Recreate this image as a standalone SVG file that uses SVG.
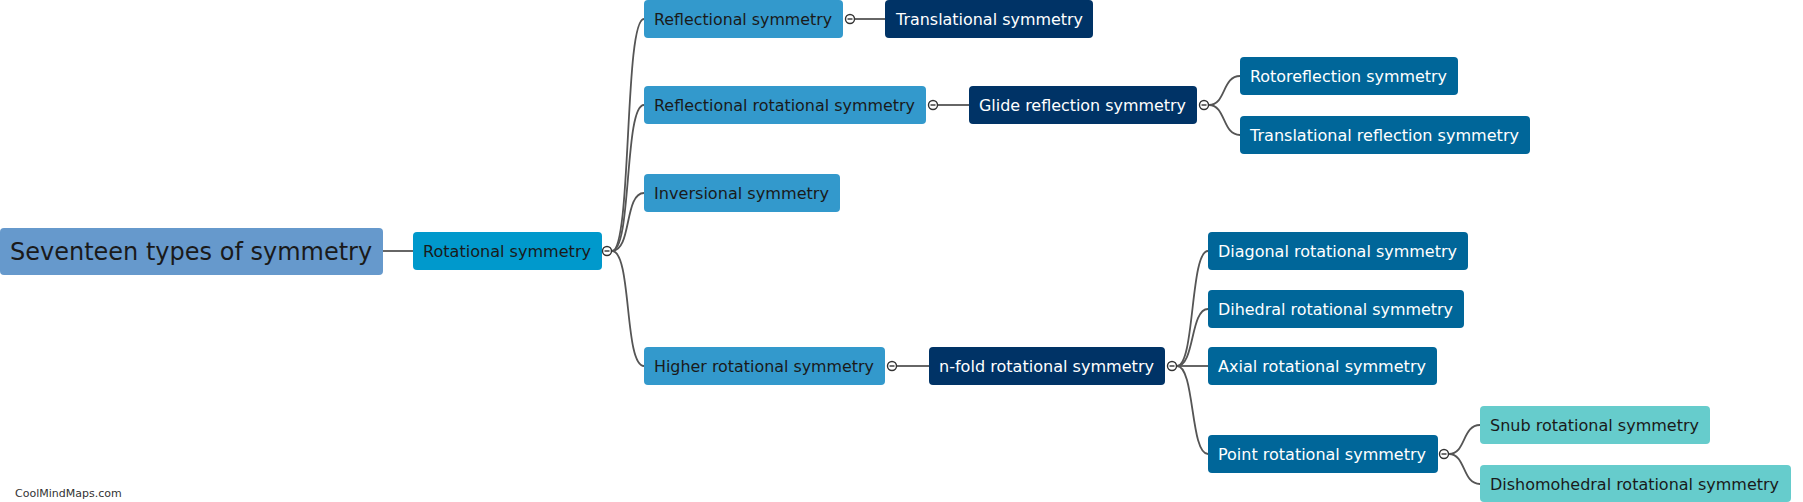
<svg xmlns="http://www.w3.org/2000/svg" width="1803" height="502" viewBox="0 0 1803 502">
<style>
.n rect{rx:4;ry:4}
.n text{font-family:"DejaVu Sans","Liberation Sans",sans-serif;font-size:16px}
.l1{fill:#0099cc}.l2{fill:#3399cc}.dk{fill:#003366}.md{fill:#006699}.lf{fill:#66cccc}
.tw{fill:#ffffff}.tb{fill:#1a1a1a}
.c path,.c line{fill:none;stroke:#555;stroke-width:1.8}
.tg circle{fill:#fff;stroke:#333;stroke-width:1.4}
.tg line{stroke:#333;stroke-width:1.4}
</style>
<rect width="1803" height="502" fill="#fff"/>
<g class="c">
<line x1="383" y1="251" x2="413" y2="251"/>
<path d="M612,251 C632,251 624,19 644,19"/>
<path d="M612,251 C632,251 624,105 644,105"/>
<path d="M612,251 C632,251 624,193 644,193"/>
<path d="M612,251 C632,251 624,366 644,366"/>
<line x1="855" y1="19" x2="885" y2="19"/>
<line x1="938" y1="105" x2="969" y2="105"/>
<path d="M1209,105 C1226,105 1222,76 1240,76"/>
<path d="M1209,105 C1226,105 1222,135 1240,135"/>
<line x1="897" y1="366" x2="929" y2="366"/>
<path d="M1177,366 C1195,366 1190,251 1208,251"/>
<path d="M1177,366 C1195,366 1190,309 1208,309"/>
<line x1="1177" y1="366" x2="1208" y2="366"/>
<path d="M1177,366 C1195,366 1190,454 1208,454"/>
<path d="M1449,454 C1466,454 1462,425 1480,425"/>
<path d="M1449,454 C1466,454 1462,484 1480,484"/>
</g>
<g id="root" class="n"><rect x="0" y="228" width="383" height="47" fill="#6699cc"/><text x="10" y="260" class="tb" style="font-size:24px">Seventeen types of symmetry</text></g>
<g id="rotational" class="n"><rect class="l1" x="413" y="232" width="189" height="38"/><text x="423" y="256.5" class="tb" textLength="168" lengthAdjust="spacingAndGlyphs">Rotational symmetry</text></g>
<g id="reflectional" class="n"><rect class="l2" x="644" y="0" width="199" height="38"/><text x="654" y="24.5" class="tb" textLength="178" lengthAdjust="spacingAndGlyphs">Reflectional symmetry</text></g>
<g id="translational" class="n"><rect class="dk" x="885" y="0" width="208" height="38"/><text x="896" y="24.5" class="tw" textLength="187" lengthAdjust="spacingAndGlyphs">Translational symmetry</text></g>
<g id="reflrot" class="n"><rect class="l2" x="644" y="86" width="282" height="38"/><text x="654" y="110.5" class="tb" textLength="261" lengthAdjust="spacingAndGlyphs">Reflectional rotational symmetry</text></g>
<g id="glide" class="n"><rect class="dk" x="969" y="86" width="228" height="38"/><text x="979" y="110.5" class="tw" textLength="207" lengthAdjust="spacingAndGlyphs">Glide reflection symmetry</text></g>
<g id="rotoreflection" class="n"><rect class="md" x="1240" y="57" width="218" height="38"/><text x="1250" y="81.5" class="tw" textLength="197" lengthAdjust="spacingAndGlyphs">Rotoreflection symmetry</text></g>
<g id="transrefl" class="n"><rect class="md" x="1240" y="116" width="290" height="38"/><text x="1250" y="140.5" class="tw" textLength="269" lengthAdjust="spacingAndGlyphs">Translational reflection symmetry</text></g>
<g id="inversional" class="n"><rect class="l2" x="644" y="174" width="196" height="38"/><text x="654" y="198.5" class="tb" textLength="175" lengthAdjust="spacingAndGlyphs">Inversional symmetry</text></g>
<g id="higher" class="n"><rect class="l2" x="644" y="347" width="241" height="38"/><text x="654" y="371.5" class="tb" textLength="220" lengthAdjust="spacingAndGlyphs">Higher rotational symmetry</text></g>
<g id="nfold" class="n"><rect class="dk" x="929" y="347" width="236" height="38"/><text x="939" y="371.5" class="tw" textLength="215" lengthAdjust="spacingAndGlyphs">n-fold rotational symmetry</text></g>
<g id="diagonal" class="n"><rect class="md" x="1208" y="232" width="260" height="38"/><text x="1218" y="256.5" class="tw" textLength="239" lengthAdjust="spacingAndGlyphs">Diagonal rotational symmetry</text></g>
<g id="dihedral" class="n"><rect class="md" x="1208" y="290" width="256" height="38"/><text x="1218" y="314.5" class="tw" textLength="235" lengthAdjust="spacingAndGlyphs">Dihedral rotational symmetry</text></g>
<g id="axial" class="n"><rect class="md" x="1208" y="347" width="229" height="38"/><text x="1218" y="371.5" class="tw" textLength="208" lengthAdjust="spacingAndGlyphs">Axial rotational symmetry</text></g>
<g id="point" class="n"><rect class="md" x="1208" y="435" width="230" height="38"/><text x="1218" y="459.5" class="tw" textLength="208" lengthAdjust="spacingAndGlyphs">Point rotational symmetry</text></g>
<g id="snub" class="n"><rect class="lf" x="1480" y="406" width="230" height="38"/><text x="1490" y="430.5" class="tb" textLength="209" lengthAdjust="spacingAndGlyphs">Snub rotational symmetry</text></g>
<g id="dishomohedral" class="n"><rect class="lf" x="1480" y="465" width="311" height="37"/><text x="1490" y="489.5" class="tb" textLength="289" lengthAdjust="spacingAndGlyphs">Dishomohedral rotational symmetry</text></g>
<g class="tg">
<circle cx="607" cy="251" r="4.5"/><line x1="604.5" y1="251" x2="609.5" y2="251"/>
<circle cx="850" cy="19" r="4.5"/><line x1="847.5" y1="19" x2="852.5" y2="19"/>
<circle cx="933" cy="105" r="4.5"/><line x1="930.5" y1="105" x2="935.5" y2="105"/>
<circle cx="1204" cy="105" r="4.5"/><line x1="1201.5" y1="105" x2="1206.5" y2="105"/>
<circle cx="892" cy="366" r="4.5"/><line x1="889.5" y1="366" x2="894.5" y2="366"/>
<circle cx="1172" cy="366" r="4.5"/><line x1="1169.5" y1="366" x2="1174.5" y2="366"/>
<circle cx="1444" cy="454" r="4.5"/><line x1="1441.5" y1="454" x2="1446.5" y2="454"/>
</g>
<text x="15" y="497" style="font-family:'DejaVu Sans','Liberation Sans',sans-serif;font-size:11px" fill="#333">CoolMindMaps.com</text>
</svg>
